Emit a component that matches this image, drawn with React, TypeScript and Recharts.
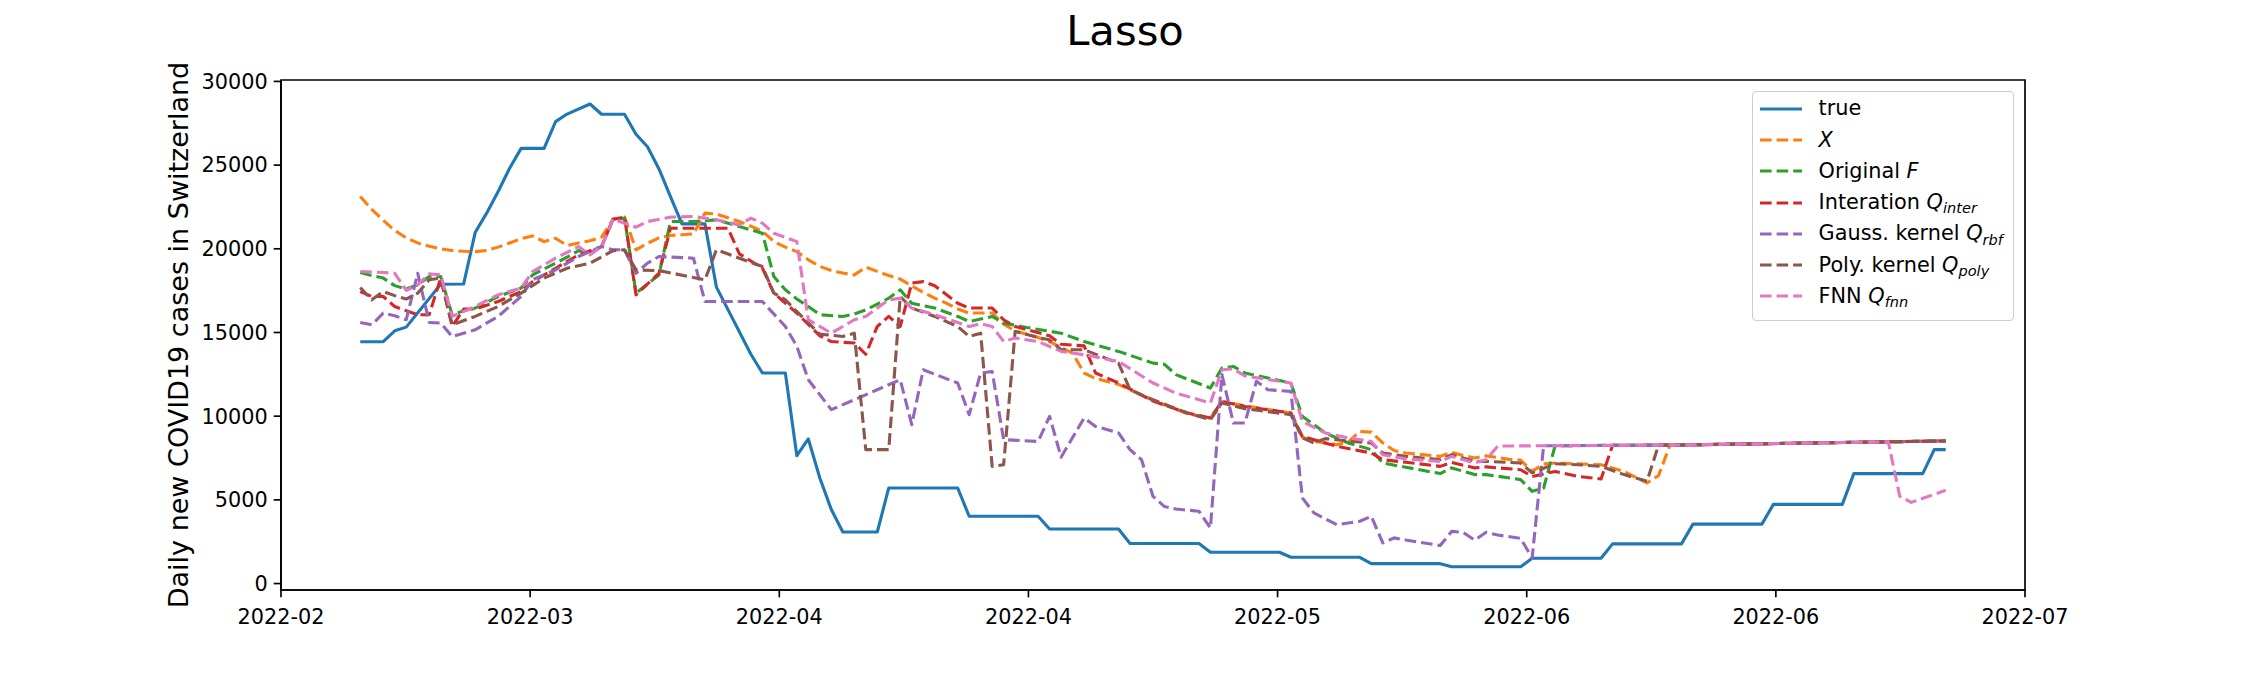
import React from 'react';
import { LineChart, Line, XAxis, YAxis, Legend, ReferenceArea } from 'recharts';

type Pt = [number, number];

// ---- axes ----
const TITLE = 'Lasso';
const Y_LABEL = 'Daily new COVID19 cases in Switzerland';
const X_TICK_LABELS = ['2022-02', '2022-03', '2022-04', '2022-04', '2022-05', '2022-06', '2022-06', '2022-07'];
const Y_TICKS = [0, 5000, 10000, 15000, 20000, 25000, 30000];
const X_DOMAIN: [number, number] = [-6.9, 144.9];
const Y_DOMAIN: [number, number] = [-385, 30085];

// ---- series: [day index, daily cases] ----
const TRUE_CASES: Pt[] = [
  [0, 14450], [2, 14450], [3, 15100], [4, 15320], [7, 17880], [9, 17900], [10, 20970], [11, 22130], [12, 23420],
  [13, 24810], [14, 26000], [16, 26000], [17, 27600], [18, 28050], [20, 28650], [21, 28040], [23, 28040],
  [24, 26840], [25, 26100], [26, 24770], [27, 23120], [28, 21490], [30, 21490], [31, 17710], [34, 13700],
  [35, 12580], [37, 12580], [38, 7640], [39, 8640], [40, 6310], [41, 4420], [42, 3080], [45, 3080], [46, 5710],
  [52, 5710], [53, 4020], [59, 4020], [60, 3260], [66, 3260], [67, 2390], [73, 2390], [74, 1870], [80, 1870],
  [81, 1570], [87, 1570], [88, 1190], [94, 1190], [95, 1000], [101, 1000], [102, 1510], [108, 1510], [109, 2370],
  [115, 2370], [116, 3550], [122, 3550], [123, 4730], [129, 4730], [130, 6570], [136, 6570], [137, 8000], [138, 8000],
];

const PRED_X: Pt[] = [
  [0, 23120], [1, 22350], [2, 21700], [3, 21100], [4, 20650], [5, 20350], [6, 20150], [7, 20000], [8, 19900],
  [9, 19850], [10, 19830], [11, 19900], [12, 20100], [13, 20350], [14, 20600], [15, 20770], [16, 20430],
  [17, 20630], [18, 20200], [19, 20350], [20, 20480], [21, 20700], [22, 21750], [23, 21900], [24, 19940],
  [25, 20330], [26, 20650], [27, 20800], [28, 20840], [29, 20890], [30, 22130], [31, 22080], [32, 21850],
  [33, 21630], [34, 21350], [35, 21050], [36, 20430], [37, 20100], [38, 19830], [39, 19340], [40, 18950],
  [41, 18700], [42, 18550], [43, 18440], [44, 18900], [45, 18650], [46, 18400], [47, 18190], [48, 17790],
  [49, 17400], [50, 17050], [51, 16750], [52, 16400], [53, 16160], [55, 16160], [56, 15500], [57, 15100],
  [58, 14900], [59, 14700], [60, 14450], [61, 14100], [62, 13770], [63, 12580], [64, 12250], [66, 11900],
  [69, 10950], [72, 10150], [74, 9890], [75, 10880], [77, 10620], [81, 10190], [82, 8750], [83, 8500],
  [85, 8300], [86, 8450], [87, 9090], [88, 9050], [89, 8400], [90, 7950], [91, 7800], [94, 7600], [95, 7840],
  [96, 7650], [97, 7500], [98, 7630], [100, 7420], [101, 7380], [102, 6700], [103, 7150], [104, 7200],
  [108, 7100], [110, 6700], [112, 6010], [113, 6450], [114, 8276], [115, 8280], [138, 8520],
];

const PRED_F: Pt[] = [
  [0, 18580], [1, 18400], [2, 18250], [3, 17800], [4, 17600], [5, 17850], [6, 18340], [7, 18340], [8, 16060],
  [9, 16300], [10, 16460], [11, 16800], [12, 17150], [13, 17400], [14, 17650], [15, 18440], [16, 18800],
  [17, 19140], [18, 19500], [19, 19890], [20, 19750], [21, 20130], [22, 21770], [23, 21830], [24, 17350],
  [25, 17900], [26, 18440], [27, 21630], [29, 21630], [31, 21730], [33, 21330], [35, 20930], [36, 18340],
  [37, 17550], [38, 17000], [39, 16550], [40, 16060], [42, 15960], [43, 16100], [44, 16350], [45, 16700],
  [46, 17050], [47, 17550], [48, 16750], [50, 16460], [52, 15960], [53, 15660], [54, 15800], [55, 15960],
  [56, 15560], [58, 15300], [61, 14960], [63, 14460], [66, 13870], [69, 13170], [70, 13100], [71, 12480],
  [74, 11680], [75, 12880], [76, 12970], [77, 12580], [81, 11980], [82, 9990], [84, 9000], [86, 8400],
  [88, 8000], [89, 7200], [91, 6950], [94, 6570], [95, 6910], [97, 6510], [98, 6510], [101, 6210], [102, 5510],
  [103, 5710], [104, 8236], [115, 8280], [138, 8520],
];

const PRED_INTER: Pt[] = [
  [0, 17450], [1, 17150], [2, 17150], [3, 16550], [4, 16300], [5, 16060], [6, 16060], [7, 18250], [8, 15360],
  [9, 16400], [10, 16400], [12, 16850], [14, 17450], [15, 18040], [17, 18840], [19, 19640], [21, 20130],
  [22, 21770], [23, 21890], [24, 17250], [26, 18540], [27, 21230], [32, 21230], [33, 19700], [35, 18840],
  [36, 17350], [38, 16160], [40, 14800], [41, 14460], [43, 14370], [44, 13700], [45, 15360], [46, 15960],
  [47, 15360], [48, 17950], [49, 18040], [50, 17790], [52, 16750], [53, 16460], [55, 16460], [56, 15760],
  [57, 15360], [60, 14800], [61, 14300], [63, 14200], [64, 12580], [66, 11980], [69, 10900], [72, 10190],
  [74, 9890], [75, 10880], [77, 10580], [81, 10190], [82, 8790], [85, 8200], [88, 7800], [89, 7400],
  [91, 7250], [94, 7000], [95, 7240], [97, 6910], [98, 6970], [101, 6800], [102, 6400], [104, 6700],
  [106, 6400], [108, 6250], [109, 8256], [115, 8280], [138, 8520],
];

const PRED_RBF: Pt[] = [
  [0, 15600], [1, 15460], [2, 16160], [3, 16000], [4, 15760], [5, 18540], [6, 15600], [7, 15560], [8, 14760],
  [10, 15160], [12, 15960], [14, 17150], [15, 18150], [17, 18740], [19, 19540], [21, 20130], [22, 19940],
  [23, 19940], [24, 18540], [25, 19140], [26, 19540], [29, 19440], [30, 16850], [35, 16850], [37, 15360],
  [38, 14170], [39, 12180], [41, 10390], [43, 10980], [47, 12180], [48, 9490], [49, 12770], [52, 11980],
  [53, 10090], [54, 12580], [55, 12670], [56, 8600], [59, 8490], [60, 9990], [61, 7550], [63, 9890],
  [64, 9390], [66, 9000], [67, 8000], [68, 7400], [69, 5210], [70, 4600], [71, 4450], [73, 4320], [74, 3320],
  [75, 12480], [76, 9590], [77, 9590], [78, 12080], [79, 11580], [81, 11480], [82, 5120], [83, 4220],
  [85, 3520], [87, 3720], [88, 4020], [89, 2430], [90, 2730], [91, 2600], [94, 2270], [95, 3120], [96, 3050],
  [97, 2590], [98, 3060], [99, 2900], [101, 2700], [102, 1530], [103, 8232], [115, 8280], [138, 8520],
];

const PRED_POLY: Pt[] = [
  [0, 17690], [1, 16950], [2, 17450], [3, 17200], [4, 17000], [5, 17350], [6, 18150], [7, 18250], [8, 15460],
  [10, 15960], [12, 16550], [14, 17350], [16, 18250], [18, 18840], [20, 19140], [22, 19890], [23, 19940],
  [24, 18740], [26, 18700], [30, 18150], [31, 19940], [33, 19440], [35, 18940], [36, 17350], [37, 16950],
  [38, 16250], [40, 14900], [42, 14760], [43, 14960], [44, 8000], [46, 8000], [47, 17150], [48, 16460],
  [50, 15960], [52, 15360], [53, 14760], [54, 14960], [55, 7000], [56, 7100], [57, 15060], [59, 14700],
  [60, 14560], [61, 13970], [63, 13970], [66, 13170], [67, 11580], [69, 10980], [72, 10190], [74, 9790],
  [75, 10790], [77, 10450], [81, 10090], [82, 8700], [83, 8400], [84, 8660], [86, 8520], [88, 8400],
  [89, 7800], [91, 7600], [94, 7400], [95, 7700], [97, 7300], [98, 7300], [101, 7200], [102, 6610],
  [104, 7160], [106, 7100], [108, 7000], [110, 6510], [112, 6110], [113, 8272], [115, 8280], [138, 8520],
];

const PRED_FNN: Pt[] = [
  [0, 18640], [2, 18580], [3, 18540], [4, 17510], [5, 17850], [6, 18500], [7, 18450], [8, 15960], [10, 16550],
  [12, 17250], [14, 17650], [15, 18640], [17, 19440], [19, 20130], [20, 19640], [21, 20130], [22, 21770],
  [23, 21530], [24, 21290], [25, 21630], [27, 21890], [29, 21930], [31, 21730], [33, 21430], [34, 21830],
  [35, 21530], [36, 20930], [38, 20430], [39, 15760], [41, 14960], [43, 15760], [44, 15960], [46, 16950],
  [47, 17050], [48, 16460], [50, 16060], [53, 15360], [54, 15520], [55, 15360], [56, 14460], [57, 14670],
  [59, 14460], [61, 13870], [63, 13670], [66, 13270], [69, 11980], [71, 11380], [74, 10790], [75, 12770],
  [76, 12820], [77, 12400], [81, 11980], [82, 9690], [84, 9000], [86, 8700], [88, 8490], [89, 7700],
  [91, 7450], [94, 7300], [95, 7600], [97, 7200], [98, 7400], [99, 8216], [115, 8280], [133, 8468],
  [134, 5210], [135, 4850], [138, 5570],
];

const FONT = '"DejaVu Sans", Verdana, sans-serif';
const LW = 3.1;
const DASH = '11.6 5';

const it = (s: string) => <span style={{ fontStyle: 'italic' }}>{s}</span>;
const sub = (s: string) => (
  <span style={{ fontStyle: 'italic', fontSize: '0.7em', position: 'relative', top: '0.28em' }}>{s}</span>
);

const SERIES = [
  { key: 'true', data: TRUE_CASES, color: '#1f77b4', dashed: false, label: <>true</> },
  { key: 'x', data: PRED_X, color: '#ff7f0e', dashed: true, label: <>{it('X')}</> },
  { key: 'f', data: PRED_F, color: '#2ca02c', dashed: true, label: <>Original {it('F')}</> },
  { key: 'inter', data: PRED_INTER, color: '#d62728', dashed: true, label: <>Interation {it('Q')}{sub('inter')}</> },
  { key: 'rbf', data: PRED_RBF, color: '#9467bd', dashed: true, label: <>Gauss. kernel {it('Q')}{sub('rbf')}</> },
  { key: 'poly', data: PRED_POLY, color: '#8c564b', dashed: true, label: <>Poly. kernel {it('Q')}{sub('poly')}</> },
  { key: 'fnn', data: PRED_FNN, color: '#e377c2', dashed: true, label: <>FNN {it('Q')}{sub('fnn')}</> },
];

const toRows = (pts: Pt[]) => pts.map(([x, y]) => ({ x, y }));

const X_TICKS = X_TICK_LABELS.map(
  (_, k) => X_DOMAIN[0] + (k * (X_DOMAIN[1] - X_DOMAIN[0])) / (X_TICK_LABELS.length - 1)
);
const fmtX = (v: number) => {
  const k = X_TICKS.findIndex((t) => Math.abs(t - v) < 1e-6);
  return k >= 0 ? X_TICK_LABELS[k] : '';
};

const LegendBox = () => (
  <div
    style={{
      boxSizing: 'border-box',
      width: 262,
      height: 230,
      background: 'rgba(255,255,255,0.8)',
      border: '1.5px solid #cccccc',
      borderRadius: 4,
      padding: '1px 0 0 7px',
      fontFamily: FONT,
      fontSize: 20.8,
      color: '#000',
    }}
  >
    {SERIES.map((s) => (
      <div key={s.key} style={{ display: 'flex', alignItems: 'center', height: 31.3 }}>
        <svg width={42} height={10} style={{ flex: 'none' }}>
          <line x1={0} y1={5} x2={42} y2={5} stroke={s.color} strokeWidth={LW} strokeDasharray={s.dashed ? DASH : undefined} />
        </svg>
        <span style={{ marginLeft: 16.6, whiteSpace: 'nowrap', lineHeight: 1 }}>{s.label}</span>
      </div>
    ))}
  </div>
);

const YLabel = () => (
  <text
    x={178}
    y={335}
    transform="rotate(-90 178 335)"
    textAnchor="middle"
    dominantBaseline="central"
    fontFamily={FONT}
    fontSize={27}
    fill="#000"
  >
    {Y_LABEL}
  </text>
);

const tickStyle = { fontSize: 20.8, fill: '#000', fontFamily: FONT };

export default function App() {
  return (
    <div style={{ position: 'absolute', left: 0, top: 0, width: 2250, height: 675, background: '#fff' }}>
      <svg width={2250} height={70} style={{ position: 'absolute', left: 0, top: 0, zIndex: 2 }}>
        <text x={1125} y={45} textAnchor="middle" fontFamily={FONT} fontSize={41.7} fill="#000">
          {TITLE}
        </text>
      </svg>
      <LineChart width={2250} height={675} margin={{ top: 80, right: 225, bottom: 0, left: 0 }}>
        <XAxis
          type="number"
          dataKey="x"
          domain={X_DOMAIN}
          ticks={X_TICKS}
          tickFormatter={fmtX}
          interval={0}
          allowDataOverflow
          height={85}
          tickSize={7.3}
          tickMargin={12}
          tick={tickStyle}
          axisLine={{ stroke: '#000', strokeWidth: 1.67 }}
          tickLine={{ stroke: '#000', strokeWidth: 1.67 }}
        />
        <YAxis
          type="number"
          domain={Y_DOMAIN}
          ticks={Y_TICKS}
          interval={0}
          allowDataOverflow
          width={281}
          tickSize={7.3}
          tickMargin={6}
          tick={tickStyle}
          axisLine={{ stroke: '#000', strokeWidth: 1.67 }}
          tickLine={{ stroke: '#000', strokeWidth: 1.67 }}
          label={<YLabel />}
        />
        <ReferenceArea
          x1={X_DOMAIN[0]}
          x2={X_DOMAIN[1]}
          y1={Y_DOMAIN[0]}
          y2={Y_DOMAIN[1]}
          fill="none"
          fillOpacity={0}
          stroke="#000"
          strokeWidth={1.67}
          ifOverflow="visible"
        />
        {SERIES.map((s) => (
          <Line
            key={s.key}
            data={toRows(s.data)}
            dataKey="y"
            name={s.key}
            type="linear"
            stroke={s.color}
            strokeWidth={LW}
            strokeDasharray={s.dashed ? DASH : undefined}
            strokeLinejoin="round"
            dot={false}
            activeDot={false}
            isAnimationActive={false}
          />
        ))}
        <Legend
          layout="vertical"
          align="center"
          verticalAlign="middle"
          content={() => <LegendBox />}
          wrapperStyle={{ position: 'absolute', left: 1752, top: 91, width: 262, height: 230, margin: 0 }}
        />
      </LineChart>
    </div>
  );
}
